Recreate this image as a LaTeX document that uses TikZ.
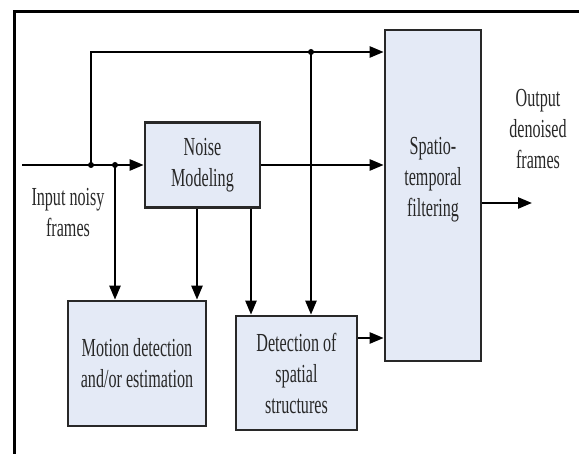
\documentclass[tikz,border=0pt]{standalone}
\usepackage{fontspec}
\setmainfont{Liberation Serif}[FakeStretch=0.62]
\usetikzlibrary{arrows.meta}
\definecolor{cajafondo}{RGB}{228,234,246}
\definecolor{borde}{RGB}{40,40,40}

\tikzset{
  caja/.style={draw=borde, fill=cajafondo, line width=2.6pt, inner sep=0pt, align=center, text=borde, font=\fontsize{26}{31}\selectfont},
  texto/.style={align=center, text=borde, font=\fontsize{26}{31}\selectfont},
  flecha/.style={line width=2.4pt, ->},
  punto/.style={fill, circle, inner sep=0pt, minimum size=6pt}
}

\begin{document}
\begin{tikzpicture}[x=1pt, y=1pt, >={Triangle[length=14pt,width=11pt]}]
        \useasboundingbox (0,0) rectangle (579,454);
        \draw[line width=3pt] (14,0) -- (14,442) -- (579,442); % marco
        \node[caja, minimum width=115pt, minimum height=85pt] (noise) at (202.5,289) {Noise\\Modeling};
        \node[caja, minimum width=96pt, minimum height=331pt] (spatio) at (433,258.5) {};
        \node[texto] (spatiotxt) at (433,274) {Spatio-\\temporal\\filtering};
        \node[caja, minimum width=138pt, minimum height=125pt] (motion) at (137,90.5) {Motion detection\\and/or estimation};
        \node[caja, minimum width=121pt, minimum height=114pt] (detect) at (296.5,81) {Detection of\\spatial\\structures};
        \node[texto] (input) at (68,241) {Input noisy\\frames};
        \node[texto] (output) at (538,325) {Output\\denoised\\frames};
        \coordinate (in) at (22,289);
        \coordinate (j1) at (91,289);
        \coordinate (j2) at (115,289);
        \coordinate (j3) at (311,402);
        \coordinate (x1) at (197,0);
        \coordinate (x2) at (251,0);
        \coordinate (yd) at (0,116);
        \coordinate (out) at (532,251);
        \draw[flecha] (in) -- (noise.west); % entrada
        \draw[flecha] (j1) -- (j1 |- j3) -- (spatio.west |- j3);
        \draw[flecha] (j2) -- (j2 |- motion.north);
        \draw[flecha] (noise.south -| x1) -- (motion.north -| x1);
        \draw[flecha] (noise.south -| x2) -- (detect.north -| x2);
        \draw[flecha] (j3) -- (j3 |- detect.north);
        \draw[flecha] (noise.east) -- (spatio.west |- noise.east);
        \draw[flecha] (detect.east |- yd) -- (spatio.west |- yd);
        \draw[flecha] (spatio.east |- out) -- (out); % salida
        \node[punto] (p1) at (j1) {};
        \node[punto] (p2) at (j2) {};
        \node[punto] (p3) at (j3) {};
\end{tikzpicture}
\end{document}
